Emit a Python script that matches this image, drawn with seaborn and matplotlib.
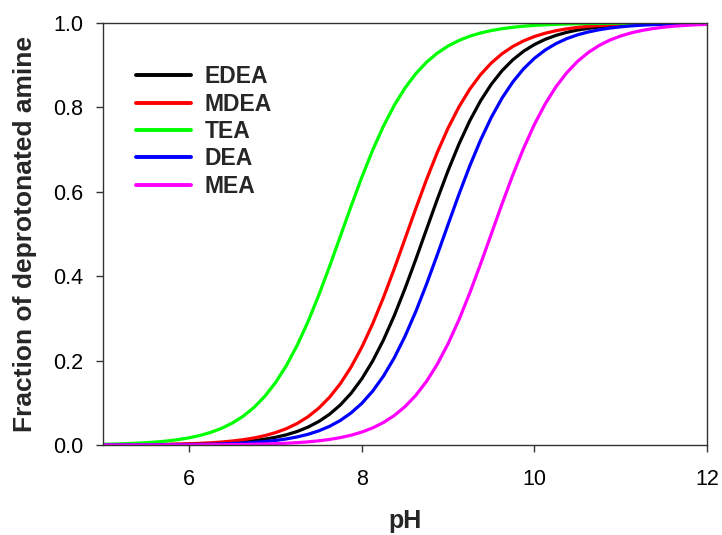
import matplotlib
matplotlib.use("Agg")
import matplotlib.pyplot as plt
from matplotlib.lines import Line2D
import seaborn as sns
import pandas as pd

ph = [5.000, 5.125, 5.250, 5.375, 5.500, 5.625, 5.750, 5.875,
      6.000, 6.125, 6.250, 6.375, 6.500, 6.625, 6.750, 6.875,
      7.000, 7.125, 7.250, 7.375, 7.500, 7.625, 7.750, 7.875,
      8.000, 8.125, 8.250, 8.375, 8.500, 8.625, 8.750, 8.875,
      9.000, 9.125, 9.250, 9.375, 9.500, 9.625, 9.750, 9.875,
      10.000, 10.125, 10.250, 10.375, 10.500, 10.625, 10.750, 10.875,
      11.000, 11.125, 11.250, 11.375, 11.500, 11.625, 11.750, 11.875,
      12.000]

edea = [0.0002, 0.0002, 0.0003, 0.0004, 0.0006, 0.0008, 0.0010, 0.0014,
        0.0019, 0.0025, 0.0033, 0.0044, 0.0059, 0.0078, 0.0104, 0.0138,
        0.0183, 0.0242, 0.0320, 0.0423, 0.0556, 0.0728, 0.0948, 0.1225,
        0.1570, 0.1989, 0.2487, 0.3063, 0.3706, 0.4398, 0.5115, 0.5827,
        0.6506, 0.7129, 0.7680, 0.8153, 0.8548, 0.8870, 0.9128, 0.9332,
        0.9490, 0.9613, 0.9707, 0.9779, 0.9833, 0.9874, 0.9905, 0.9929,
        0.9947, 0.9960, 0.9970, 0.9977, 0.9983, 0.9987, 0.9990, 0.9993,
        0.9995]
mdea = [0.0003, 0.0004, 0.0005, 0.0007, 0.0010, 0.0013, 0.0017, 0.0023,
        0.0030, 0.0040, 0.0053, 0.0071, 0.0095, 0.0126, 0.0167, 0.0222,
        0.0293, 0.0387, 0.0510, 0.0668, 0.0872, 0.1130, 0.1452, 0.1847,
        0.2320, 0.2871, 0.3494, 0.4173, 0.4885, 0.5602, 0.6294, 0.6937,
        0.7513, 0.8011, 0.8430, 0.8775, 0.9052, 0.9272, 0.9444, 0.9577,
        0.9680, 0.9758, 0.9817, 0.9862, 0.9896, 0.9922, 0.9941, 0.9956,
        0.9967, 0.9975, 0.9981, 0.9986, 0.9990, 0.9992, 0.9994, 0.9996,
        0.9997]
tea = [0.0017, 0.0023, 0.0031, 0.0041, 0.0055, 0.0073, 0.0097, 0.0129,
       0.0171, 0.0227, 0.0300, 0.0396, 0.0521, 0.0683, 0.0890, 0.1153,
       0.1481, 0.1881, 0.2361, 0.2918, 0.3546, 0.4229, 0.4942, 0.5658,
       0.6348, 0.6986, 0.7555, 0.8047, 0.8460, 0.8799, 0.9072, 0.9287,
       0.9456, 0.9586, 0.9687, 0.9763, 0.9821, 0.9865, 0.9899, 0.9924,
       0.9943, 0.9957, 0.9968, 0.9976, 0.9982, 0.9987, 0.9990, 0.9992,
       0.9994, 0.9996, 0.9997, 0.9998, 0.9998, 0.9998, 0.9999, 0.9999,
       0.9999]
dea = [0.0001, 0.0001, 0.0002, 0.0003, 0.0003, 0.0005, 0.0006, 0.0008,
       0.0011, 0.0015, 0.0019, 0.0026, 0.0035, 0.0046, 0.0061, 0.0082,
       0.0108, 0.0144, 0.0191, 0.0253, 0.0335, 0.0442, 0.0581, 0.0760,
       0.0988, 0.1276, 0.1632, 0.2063, 0.2575, 0.3162, 0.3814, 0.4512,
       0.5230, 0.5939, 0.6610, 0.7222, 0.7762, 0.8222, 0.8604, 0.8916,
       0.9164, 0.9360, 0.9512, 0.9630, 0.9720, 0.9788, 0.9840, 0.9880,
       0.9910, 0.9932, 0.9949, 0.9962, 0.9971, 0.9978, 0.9984, 0.9988,
       0.9991]
mea = [0.0000, 0.0000, 0.0001, 0.0001, 0.0001, 0.0001, 0.0002, 0.0002,
       0.0003, 0.0004, 0.0006, 0.0007, 0.0010, 0.0013, 0.0018, 0.0024,
       0.0032, 0.0042, 0.0056, 0.0074, 0.0099, 0.0132, 0.0175, 0.0232,
       0.0307, 0.0405, 0.0532, 0.0698, 0.0909, 0.1177, 0.1509, 0.1917,
       0.2403, 0.2966, 0.3599, 0.4285, 0.5000, 0.5715, 0.6401, 0.7034,
       0.7597, 0.8083, 0.8491, 0.8823, 0.9091, 0.9302, 0.9468, 0.9596,
       0.9693, 0.9768, 0.9825, 0.9868, 0.9901, 0.9926, 0.9944, 0.9958,
       0.9968]

names = ["EDEA", "MDEA", "TEA", "DEA", "MEA"]
series = [edea, mdea, tea, dea, mea]
colors = ["#000000", "#FF0000", "#00FF00", "#0000FF", "#FF00FF"]

df = pd.concat(
    [pd.DataFrame({"pH": ph, "frac": s, "amine": n}) for n, s in zip(names, series)],
    ignore_index=True,
)

sns.set_theme(style="white")
plt.rcParams["font.family"] = ["Liberation Sans", "DejaVu Sans"]

fig = plt.figure(figsize=(7.22, 5.35), dpi=100)
ax = fig.add_axes([103 / 722, 1 - 445 / 535, 604 / 722, 422 / 535])

palette = dict(zip(names, colors))
sns.lineplot(data=df, x="pH", y="frac", hue="amine", hue_order=names,
             palette=palette, linewidth=2.3, legend=False, ax=ax, sort=False)

ax.set_xlim(5, 12)
ax.set_ylim(0, 1.0)
ax.set_xticks([6, 8, 10, 12])
ax.set_yticks([0.0, 0.2, 0.4, 0.6, 0.8, 1.0])
ax.set_yticklabels(["0.0", "0.2", "0.4", "0.6", "0.8", "1.0"])
ax.tick_params(axis="both", which="major", direction="out", length=5, width=1,
               color="#333333", labelsize=15.5, bottom=True, left=True,
               top=False, right=False, labelcolor="black")
ax.tick_params(axis="y", pad=9)
ax.tick_params(axis="x", pad=12)

for sp in ax.spines.values():
    sp.set_visible(True)
    sp.set_color("#333333")
    sp.set_linewidth(1.0)

ax.set_xlabel("pH", fontsize=18, fontweight="bold", labelpad=14)
ax.set_ylabel("Fraction of deprotonated amine", fontsize=19, fontweight="bold",
              labelpad=12)

handles = [Line2D([0], [0], color=c, linewidth=2.8) for c in colors]
leg = ax.legend(handles, names, loc="upper left", bbox_to_anchor=(0.055, 0.9),
                frameon=False, borderpad=0, borderaxespad=0, handlelength=2.4,
                handletextpad=0.6, labelspacing=0.19,
                prop={"weight": "bold", "size": 16.5})

fig.savefig("out.png", dpi=100)
